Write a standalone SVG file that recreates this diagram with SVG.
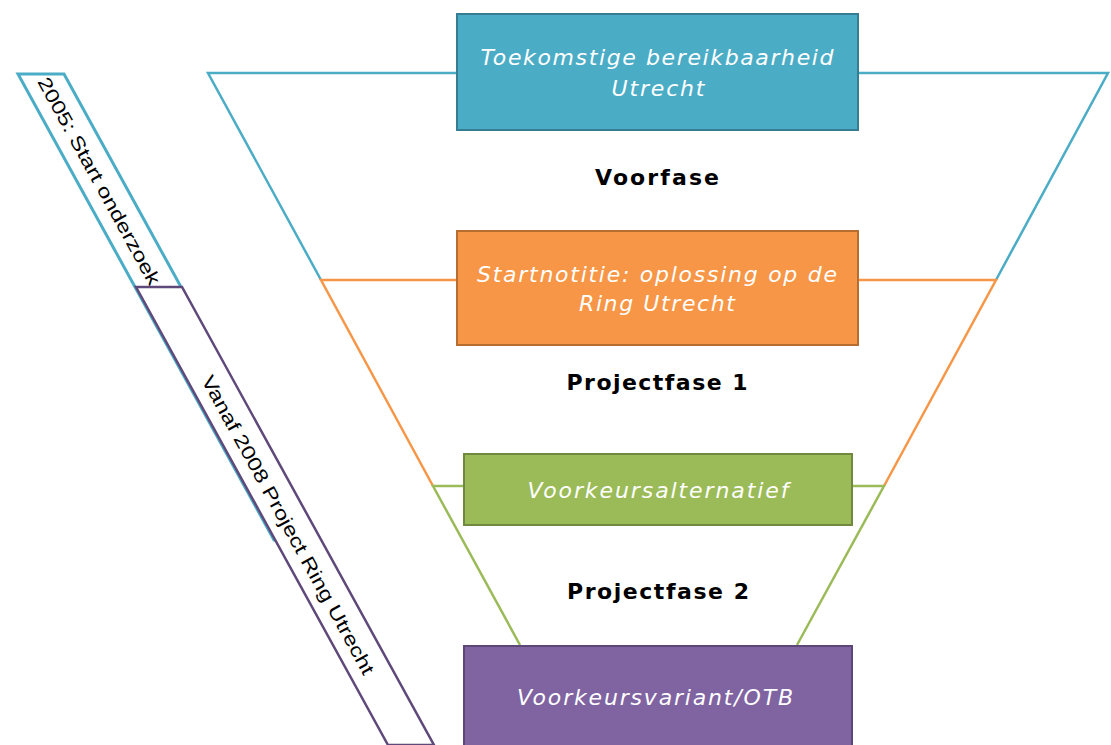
<svg xmlns="http://www.w3.org/2000/svg" width="1111" height="745" viewBox="0 0 1111 745">
<style>
.box-text{font-family:"DejaVu Sans",Verdana,sans-serif;font-style:italic;font-size:22px;fill:#ffffff;text-anchor:middle}
.phase{font-family:"DejaVu Sans",Verdana,sans-serif;font-weight:bold;font-size:22px;fill:#000000;text-anchor:middle}
.bar-text{font-family:"Liberation Sans",Arial,sans-serif;font-size:19px;fill:#000000;text-anchor:middle;dominant-baseline:central}
.ln{fill:none;stroke-width:2.5}
</style>
<rect width="1111" height="745" fill="#ffffff"/>
<g id="connectors">
  <polyline class="ln" stroke="#4BACC6" points="321,280 208,73 1108,73 996,280"/>
  <polyline class="ln" stroke="#F79646" points="433,486 321,280 996,280 884,486"/>
  <polyline class="ln" stroke="#9BBB59" points="520,645 433,486 884,486 797,645"/>
</g>
<g id="bar-2005">
  <polygon points="18,74 64,74 320,540 274,540" fill="#ffffff" stroke="#4BACC6" stroke-width="3"/>
  <text class="bar-text" transform="translate(99,181) rotate(61.2)" textLength="234" lengthAdjust="spacingAndGlyphs">2005: Start onderzoek</text>
</g>
<g id="bar-2008">
  <polygon points="136,287 182,287 434,745 388,745" fill="#ffffff" stroke="#5F497A" stroke-width="2.5"/>
  <text class="bar-text" transform="translate(288,525) rotate(61.2)" textLength="338" lengthAdjust="spacingAndGlyphs">Vanaf 2008 Project Ring Utrecht</text>
</g>
<g id="node-toekomst">
  <rect x="457" y="14" width="401" height="116" fill="#4BACC6" stroke="#357D91" stroke-width="2"/>
  <text class="box-text" x="657" y="65" textLength="353" lengthAdjust="spacing">Toekomstige bereikbaarheid</text>
  <text class="box-text" x="658" y="96" textLength="93" lengthAdjust="spacing">Utrecht</text>
</g>
<g id="label-voorfase"><text class="phase" x="657" y="185" textLength="124" lengthAdjust="spacing">Voorfase</text></g>
<g id="node-startnotitie">
  <rect x="457" y="231" width="401" height="114" fill="#F79646" stroke="#B66D31" stroke-width="2"/>
  <text class="box-text" x="657" y="282" textLength="360" lengthAdjust="spacing">Startnotitie: oplossing op de</text>
  <text class="box-text" x="657" y="311" textLength="156" lengthAdjust="spacing">Ring Utrecht</text>
</g>
<g id="label-pf1"><text class="phase" x="657" y="390" textLength="181" lengthAdjust="spacing">Projectfase 1</text></g>
<g id="node-voorkeursalternatief">
  <rect x="464" y="454" width="388" height="71" fill="#9BBB59" stroke="#71893F" stroke-width="2"/>
  <text class="box-text" x="658" y="498" textLength="261" lengthAdjust="spacing">Voorkeursalternatief</text>
</g>
<g id="label-pf2"><text class="phase" x="658" y="599" textLength="182" lengthAdjust="spacing">Projectfase 2</text></g>
<g id="node-voorkeursvariant">
  <rect x="464" y="646" width="388" height="110" fill="#8064A2" stroke="#5C4776" stroke-width="2"/>
  <text class="box-text" x="655" y="705" textLength="276" lengthAdjust="spacing">Voorkeursvariant/OTB</text>
</g>
</svg>
